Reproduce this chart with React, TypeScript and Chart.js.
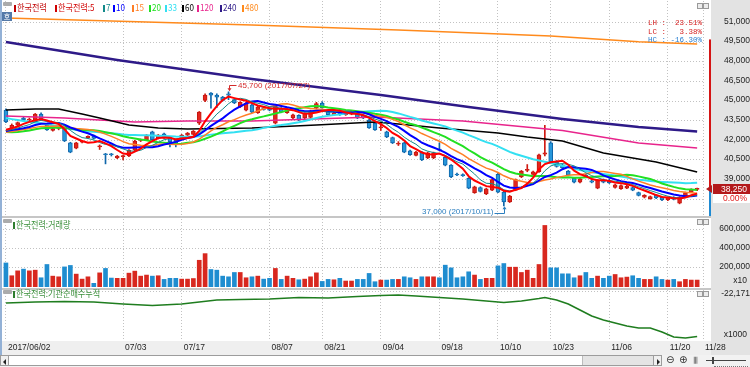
import React, { useEffect, useRef } from "react";
import { Chart, registerables } from "chart.js";

Chart.register(...registerables);

// ---------------- data ----------------
const tickIndex = [0, 20, 30, 45, 54, 64, 74, 84, 93, 103, 113, 119];
const tickLabels = ["2017/06/02", "07/03", "07/17", "08/07", "08/21", "09/04", "09/18", "10/10", "10/23", "11/06", "11/20", "11/28"];

const opens = [
  44300, 42950, 43150, 43700, 43550, 43450, 44000, 43150, 42750, 42900,
  42950, 41800, 41400, 41850, 42200, 42350, 41500, 40950, 40950, 40650,
  40750, 40800, 41250, 42000, 42050, 42650, 42150, 42500, 42250, 42000,
  42150, 42400, 42450, 43300, 45050, 45600, 45450, 45300, 45550, 45100,
  44550, 44300, 44700, 44100, 44500, 44450, 43300, 44450, 44100, 43700,
  43900, 43700, 43750, 44450, 44850, 44200, 43950, 44150, 43950, 44000,
  44100, 43900, 43550, 43300, 42950, 42650, 42200, 41700, 41800, 41200,
  40850, 41100, 40650, 40650, 41300, 40700, 40100, 39400, 39350, 39100,
  38000, 38400, 37900, 38200, 39400, 38050, 37300, 38200, 39200, 39700,
  39400, 39600, 40950, 41800, 40350, 40100, 39650, 39100, 38800, 39350,
  38900, 38350, 39000, 38950, 38400, 38300, 38350, 38400, 38000, 37650,
  37550, 37800, 37650, 37450, 37650, 37200, 37700, 38050, 38250,
];
const highs = [
  44400, 43250, 43400, 43800, 43700, 44050, 44100, 43250, 42950, 43000,
  43000, 41850, 41850, 42000, 42350, 42400, 41650, 41000, 41000, 40850,
  40850, 41300, 42000, 42100, 42450, 42700, 42450, 42550, 42300, 42050,
  42450, 42600, 42750, 44200, 45550, 45650, 45550, 45350, 45700, 45150,
  44950, 44900, 44750, 44600, 44550, 44500, 44750, 44500, 44450, 44000,
  43950, 44100, 44300, 44900, 44950, 44250, 44150, 44200, 44200, 44250,
  44150, 43950, 43600, 43350, 43350, 42700, 42250, 41900, 41850, 41250,
  41150, 41150, 41100, 41100, 41800, 40750, 40150, 39500, 39450, 39150,
  38500, 38450, 38350, 39050, 39500, 38100, 37800, 39050, 39700, 40150,
  39650, 40950, 43150, 41900, 40450, 40200, 39700, 39150, 39100, 39400,
  38950, 39000, 39050, 39050, 38650, 38600, 38600, 38450, 38050, 37850,
  37750, 37850, 37700, 37650, 37700, 37700, 38050, 38300, 38350,
];
const lows = [
  43350, 42900, 43100, 43500, 43500, 43400, 43550, 42750, 42700, 42800,
  41900, 41050, 41350, 41800, 42150, 42100, 41300, 40200, 40800, 40600,
  40500, 40750, 41200, 41900, 42000, 42000, 42100, 42150, 41500, 41500,
  42100, 42350, 42400, 43200, 44950, 44450, 44500, 45000, 45100, 44800,
  44500, 44250, 44100, 44050, 44300, 44250, 43250, 44100, 44050, 43650,
  43500, 43650, 43700, 44400, 44450, 43900, 43900, 43900, 43900, 43950,
  43650, 43650, 42900, 42750, 42750, 42200, 41750, 41600, 41050, 40850,
  40800, 40450, 40600, 40600, 41200, 40050, 39150, 39300, 39250, 38300,
  37950, 38050, 37850, 38150, 38000, 37000, 37250, 38150, 39150, 39600,
  39350, 39550, 40800, 40300, 39950, 39850, 39300, 38750, 38750, 39150,
  38750, 38300, 38750, 38700, 38350, 38250, 38300, 38150, 37750, 37600,
  37500, 37550, 37400, 37400, 37450, 37150, 37650, 38000, 38150,
];
const closes = [
  43400, 43150, 43350, 43550, 43600, 44000, 43600, 42800, 42900, 42950,
  41950, 41100, 41800, 41950, 42300, 42150, 41550, 40900, 40900, 40800,
  40800, 41250, 41950, 42050, 42400, 42050, 42400, 42200, 41900, 41800,
  42400, 42550, 42700, 44150, 45450, 45450, 45300, 45050, 45450, 44850,
  44900, 44850, 44150, 44550, 44350, 44300, 44700, 44150, 44400, 43950,
  43550, 44050, 44250, 44800, 44500, 43950, 44100, 43950, 44100, 44150,
  43700, 43700, 42950, 42800, 43000, 42250, 41800, 41750, 41100, 40900,
  41100, 40500, 41050, 41050, 41250, 40100, 39200, 39350, 39300, 38350,
  38450, 38100, 38300, 39000, 38050, 37300, 37750, 39000, 39650, 39750,
  39600, 40900, 41050, 40350, 40000, 39900, 39350, 38800, 39050, 39200,
  38800, 38950, 38800, 38750, 38600, 38550, 38500, 38200, 37800, 37800,
  37700, 37600, 37450, 37600, 37500, 37650, 38000, 38250, 38250,
];
const volumes = [
  250000, 117000, 168000, 186000, 168000, 175000, 96000, 234000, 113000, 106000,
  209000, 224000, 134000, 82000, 106000, 38000, 147000, 193000, 93000, 90000,
  90000, 144000, 165000, 113000, 124000, 113000, 117000, 79000, 90000, 90000,
  82000, 82000, 88000, 278000, 347000, 182000, 175000, 113000, 106000, 151000,
  151000, 96000, 106000, 113000, 82000, 90000, 193000, 79000, 113000, 90000,
  75000, 82000, 106000, 147000, 58000, 79000, 75000, 90000, 62000, 62000,
  79000, 79000, 141000, 55000, 72000, 72000, 79000, 79000, 106000, 96000,
  79000, 106000, 106000, 106000, 96000, 227000, 199000, 96000, 106000, 158000,
  124000, 79000, 90000, 90000, 220000, 244000, 206000, 206000, 151000, 175000,
  90000, 234000, 640000, 199000, 199000, 137000, 137000, 96000, 117000, 151000,
  90000, 113000, 90000, 113000, 130000, 96000, 103000, 117000, 90000, 79000,
  79000, 106000, 79000, 72000, 79000, 55000, 79000, 72000, 72000,
];
// closes before the first visible day (needed to start the moving averages)
const priorCloses = [
  45900, 45800, 45700, 45600, 45650, 45500, 45400, 45300, 45200, 45100, 45000, 44900, 44550,
  43400, 42900, 42600, 42300, 42100, 42200, 42400, 42350, 42500, 42600, 42450, 42700, 42800,
  42650, 42500, 42600, 42700, 42550, 42800,
];
const maPeriods = [5, 7, 10, 15, 20, 33];

// long moving averages (vertex index, value)
const ma60Idx = [0, 5, 9, 13, 16, 21, 26, 31, 42, 53, 63, 67, 74, 84, 89, 95, 102, 111, 118];
const ma60Val = [44310, 44390, 44390, 44010, 43700, 43170, 42940, 42860, 42940, 43170, 43400, 43250, 42940, 42560, 42250, 41950, 41030, 40350, 39580];
const ma120Idx = [0, 10, 22, 31, 42, 63, 78, 95, 108, 118];
const ma120Val = [43860, 43700, 43400, 43470, 43470, 43780, 43470, 42750, 41800, 41410];
const ma240Idx = [0, 19, 42, 64, 79, 95, 108, 118];
const ma240Val = [49500, 48130, 46680, 45460, 44540, 43630, 43020, 42670];
const ma480Idx = [0, 42, 67, 93, 108, 118];
const ma480Val = [51330, 50800, 50420, 49960, 49530, 49350];

// institutional net buying, cumulative (x1000)
const instIdx = [0, 5, 10, 15, 20, 25, 30, 33, 36, 40, 45, 50, 55, 60, 64, 67, 70, 74, 78, 82, 85, 88, 91, 92, 94, 96, 98, 100, 102, 104, 106, 108, 110, 112, 114, 116, 118];
const instVal = [-27671, -27171, -26921, -27171, -28171, -28921, -28171, -27171, -26171, -25921, -25671, -24921, -25171, -24421, -23921, -23671, -24171, -24921, -25671, -26671, -27421, -26671, -25421, -24921, -26171, -28171, -31171, -34171, -36171, -37671, -39171, -40171, -40171, -42171, -44671, -45171, -44421];

const priceTicks = [37500, 39000, 40500, 42000, 43500, 45000, 46500, 48000, 49500, 51000];
const volumeTicks = [200000, 400000, 600000];
const instTicks = [-22171];
const highDate = "2017/07/27";
const lowDate = "2017/10/11";

// ---------------- styles ----------------
const NUM_FONT = '"Liberation Sans", Arial, sans-serif';
const KR_FONT = '"Noto Sans CJK KR", "Noto Sans", sans-serif';
const MONO_FONT = '"Liberation Mono", "DejaVu Sans Mono", monospace';
const GRID = "#c2c2c2";
const LABEL = "#1e1e1e";
const AXIS_BG = "#e3e3e3";
const AXIS_BG_X = 711;
const X_MIN = -0.5;
const X_MAX = 119;

const MA_STYLE: Record<number, { color: string; width: number }> = {
  5: { color: "#ff0000", width: 2 },
  7: { color: "#138a8a", width: 1 },
  10: { color: "#0000ff", width: 2 },
  15: { color: "#ff7f27", width: 1.5 },
  20: { color: "#22e022", width: 2 },
  33: { color: "#33e0f2", width: 2 },
  60: { color: "#000000", width: 1.5 },
  120: { color: "#e8248c", width: 1.5 },
  240: { color: "#2e1a88", width: 2.5 },
  480: { color: "#ff8a1c", width: 1.5 },
};

const fmt = (v: number) => Math.round(v).toLocaleString("en-US");
const isUp = closes.map((c, i) => c >= opens[i]);

function sma(period: number): number[] {
  const all = priorCloses.concat(closes);
  const off = priorCloses.length;
  return closes.map((_, i) => {
    let s = 0;
    for (let k = off + i - period + 1; k <= off + i; k++) s += all[k];
    return s / period;
  });
}

function xScale(showLabels: boolean): any {
  return {
    type: "linear",
    min: X_MIN,
    max: X_MAX,
    offset: false,
    afterBuildTicks: (s: any) => {
      s.ticks = tickIndex.map((v) => ({ value: v }));
    },
    grid: { color: GRID, lineWidth: 1, drawTicks: false, offset: false },
    border: { display: false, dash: [1, 2] },
    ticks: showLabels
      ? {
          display: true,
          autoSkip: false,
          maxRotation: 0,
          minRotation: 0,
          align: "start",
          labelOffset: 2,
          padding: 2,
          color: LABEL,
          font: { family: NUM_FONT, size: 8.5 },
          callback: (v: number) => {
            const k = tickIndex.indexOf(v);
            return k >= 0 ? tickLabels[k] : "";
          },
        }
      : { display: false },
    afterFit: (s: any) => {
      s.height = showLabels ? 14 : 0;
      s.paddingLeft = 0;
      s.paddingRight = 0;
      s.paddingTop = 0;
      s.paddingBottom = 0;
    },
  };
}

function yScale(min: number, max: number, ticks: number[], padding: number, hideFirst = false, labelOffset = -1): any {
  return {
    position: "right",
    min,
    max,
    afterBuildTicks: (s: any) => {
      s.ticks = ticks.map((v) => ({ value: v }));
    },
    grid: { color: GRID, lineWidth: 1, drawTicks: false },
    border: { display: false, dash: [1, 2] },
    ticks: {
      color: LABEL,
      font: { family: NUM_FONT, size: 8.5 },
      crossAlign: "far",
      padding,
      labelOffset,
      callback: (v: number) => (hideFirst && v === ticks[0] ? "" : fmt(v)),
    },
    afterFit: (s: any) => {
      s.width = 47;
      s.paddingLeft = 0;
      s.paddingRight = 0;
      s.paddingTop = 0;
      s.paddingBottom = 0;
    },
  };
}

const bgPlugin = (strip: boolean) => ({
  id: "bg",
  beforeDraw(chart: any) {
    const { ctx, width, height, chartArea } = chart;
    ctx.save();
    ctx.fillStyle = "#ffffff";
    ctx.fillRect(0, 0, width, height);
    if (strip) {
      ctx.fillStyle = "#efefef";
      ctx.fillRect(0, chartArea.bottom, width, height - chartArea.bottom);
    }
    ctx.fillStyle = AXIS_BG;
    ctx.fillRect(AXIS_BG_X, 0, width - AXIS_BG_X, height);
    ctx.restore();
  },
});

const unitPlugin = (text: string, dy: number) => ({
  id: "unit",
  afterDraw(chart: any) {
    const { ctx, chartArea } = chart;
    ctx.save();
    ctx.font = `8.5px ${NUM_FONT}`;
    ctx.fillStyle = LABEL;
    ctx.textAlign = "right";
    ctx.textBaseline = "middle";
    ctx.fillText(text, 747, chartArea.bottom - dy);
    ctx.restore();
  },
});

const mainDecor = {
  id: "mainDecor",
  afterDraw(chart: any) {
    const { ctx, chartArea, scales } = chart;
    const xs = scales.x;
    const ys = scales.y;
    const n = closes.length;
    const last = closes[n - 1];
    const prev = closes[n - 2];
    const upper = Math.floor((prev * 1.3) / 50) * 50;
    ctx.save();
    // daily limit bar
    const yTop = ys.getPixelForValue(upper);
    const yCur = Math.round(ys.getPixelForValue(last));
    ctx.fillStyle = "#d41414";
    ctx.fillRect(709, yTop, 2, yCur - yTop);
    ctx.fillStyle = "#1f8ad2";
    ctx.fillRect(709, yCur, 2, chartArea.bottom + 1 - yCur);
    // current price tag
    ctx.fillStyle = "#b3191b";
    ctx.fillRect(713, yCur - 5, 37, 10);
    ctx.beginPath();
    ctx.moveTo(706, yCur);
    ctx.lineTo(712, yCur - 4);
    ctx.lineTo(712, yCur + 4);
    ctx.closePath();
    ctx.fill();
    ctx.font = `8.5px ${NUM_FONT}`;
    ctx.textAlign = "right";
    ctx.textBaseline = "middle";
    ctx.fillStyle = "#ffffff";
    ctx.fillText(fmt(last), 747, yCur + 0.5);
    ctx.fillStyle = "#ffffff";
    ctx.fillRect(713, yCur + 5, 37, 9);
    ctx.fillStyle = "#e01818";
    ctx.fillText(((last - prev) / prev * 100).toFixed(2) + "%", 747, yCur + 9.5);

    // high / low
    let hi = 0;
    let lo = 0;
    highs.forEach((h, i) => { if (h > highs[hi]) hi = i; });
    lows.forEach((l, i) => { if (l < lows[lo]) lo = i; });
    const H = highs[hi];
    const L = lows[lo];
    const C = last;

    // LH / LC / HC
    const rows: [string, number, string][] = [
      ["LH", ((H - L) / L) * 100, "#d42020"],
      ["LC", ((C - L) / L) * 100, "#d42020"],
      ["HC", ((C - H) / H) * 100, "#2a7fd0"],
    ];
    ctx.font = `7.5px ${MONO_FONT}`;
    rows.forEach(([k, v, c], r) => {
      ctx.fillStyle = c;
      ctx.fillText(`${k} : ${(v.toFixed(2) + "%").padStart(7, " ")}`, chartArea.right - 1, 23.5 + r * 8.2);
    });

    ctx.font = `8px ${NUM_FONT}`;
    // high annotation
    const hx = Math.round(xs.getPixelForValue(hi)) + 0.5;
    const hy = ys.getPixelForValue(H);
    ctx.strokeStyle = "#d42a2a";
    ctx.fillStyle = "#d42a2a";
    ctx.lineWidth = 1;
    ctx.beginPath();
    ctx.moveTo(hx, hy - 3);
    ctx.lineTo(hx, Math.round(hy - 7) + 0.5);
    ctx.lineTo(hx + 7, Math.round(hy - 7) + 0.5);
    ctx.stroke();
    ctx.beginPath();
    ctx.moveTo(hx, hy - 0.5);
    ctx.lineTo(hx - 2, hy - 3.5);
    ctx.lineTo(hx + 2, hy - 3.5);
    ctx.closePath();
    ctx.fill();
    ctx.textAlign = "left";
    ctx.fillText(`${fmt(H)} (${highDate})`, hx + 8.5, hy - 6.5);

    // low annotation
    const lx = Math.round(xs.getPixelForValue(lo)) + 0.5;
    const ly = ys.getPixelForValue(L);
    ctx.strokeStyle = "#2c7fbf";
    ctx.fillStyle = "#2c7fbf";
    ctx.beginPath();
    ctx.moveTo(lx, ly + 3);
    ctx.lineTo(lx, Math.round(ly + 7) + 0.5);
    ctx.lineTo(lx - 10, Math.round(ly + 7) + 0.5);
    ctx.stroke();
    ctx.beginPath();
    ctx.moveTo(lx, ly + 0.5);
    ctx.lineTo(lx - 2, ly + 3.5);
    ctx.lineTo(lx + 2, ly + 3.5);
    ctx.closePath();
    ctx.fill();
    ctx.textAlign = "right";
    ctx.fillText(`${fmt(L)} (${lowDate})`, lx - 11, ly + 5.5);
    ctx.restore();
  },
};

const baseOptions = (padTop: number) => ({
  responsive: false,
  maintainAspectRatio: false,
  animation: false,
  devicePixelRatio: 1,
  events: [],
  layout: { autoPadding: false, padding: { left: 3, top: padTop, bottom: padTop === 2 ? 0 : 1, right: 0 } },
  plugins: { legend: { display: false }, tooltip: { enabled: false } },
});

function buildMain(): any {
  const maLines = maPeriods.map((p) => {
    const m = sma(p);
    return {
      type: "line",
      data: m.map((v, i) => ({ x: i, y: v })),
      borderColor: MA_STYLE[p].color,
      borderWidth: MA_STYLE[p].width,
      pointRadius: 0,
      fill: false,
      tension: 0,
      order: 0,
    };
  });
  const longLine = (p: number, idx: number[], val: number[]) => ({
    type: "line",
    data: idx.map((x, k) => ({ x, y: val[k] })),
    borderColor: MA_STYLE[p].color,
    borderWidth: MA_STYLE[p].width,
    pointRadius: 0,
    fill: false,
    tension: 0,
    order: 0,
  });
  return {
    type: "bar",
    data: {
      datasets: [
        ...maLines,
        longLine(60, ma60Idx, ma60Val),
        longLine(120, ma120Idx, ma120Val),
        longLine(240, ma240Idx, ma240Val),
        longLine(480, ma480Idx, ma480Val),
        {
          type: "bar",
          data: closes.map((c, i) => ({ x: i, y: [opens[i], c] })),
          backgroundColor: isUp.map((u) => (u ? "#e3261d" : "#2797db")),
          borderColor: isUp.map((u) => (u ? "#c41710" : "#0f66aa")),
          borderWidth: 1,
          borderSkipped: false,
          barThickness: 4,
          minBarLength: 1,
          grouped: false,
          order: 1,
        },
        {
          type: "bar",
          data: highs.map((h, i) => ({ x: i, y: [lows[i], h] })),
          backgroundColor: isUp.map((u) => (u ? "#d01a12" : "#0f66aa")),
          barThickness: 1,
          grouped: false,
          order: 2,
        },
      ],
    },
    options: {
      ...baseOptions(1),
      scales: {
        x: xScale(false),
        y: yScale(36298, 52634, priceTicks, 17, true),
      },
    },
    plugins: [bgPlugin(false), mainDecor],
  };
}

function buildVolume(): any {
  return {
    type: "bar",
    data: {
      datasets: [
        {
          data: volumes.map((v, i) => ({ x: i, y: v })),
          backgroundColor: isUp.map((u) => (u ? "#d8281f" : "#1f8dd0")),
          barThickness: 4,
          grouped: false,
        },
      ],
    },
    options: {
      ...baseOptions(1),
      scales: {
        x: xScale(false),
        y: yScale(0, 707000, volumeTicks, 12),
      },
    },
    plugins: [bgPlugin(false), unitPlugin("x10", 6)],
  };
}

function buildInst(): any {
  return {
    type: "line",
    data: {
      datasets: [
        {
          data: instIdx.map((x, k) => ({ x, y: instVal[k] })),
          borderColor: "#1f7d1f",
          borderWidth: 1.6,
          pointRadius: 0,
          fill: false,
          tension: 0,
        },
      ],
    },
    options: {
      ...baseOptions(2),
      scales: {
        x: xScale(true),
        y: yScale(-46671, -21171, instTicks, 14, false, 1.5),
      },
    },
    plugins: [bgPlugin(true), unitPlugin("x1000", 6.5)],
  };
}

function ChartCanvas({ top, height, build }: { top: number; height: number; build: () => any }) {
  const ref = useRef<HTMLCanvasElement>(null);
  useEffect(() => {
    const chart = new Chart(ref.current as HTMLCanvasElement, build());
    return () => chart.destroy();
  }, []);
  return (
    <canvas
      ref={ref}
      width={750}
      height={height}
      style={{ position: "absolute", left: 0, top, width: 750, height, display: "block" }}
    />
  );
}

const legendItems = [
  { text: "한국전력", color: "#c00000" },
  { text: "한국전력:5", color: "#d00000" },
  ...[7, 10, 15, 20, 33, 60, 120, 240, 480].map((p) => ({ text: String(p), color: MA_STYLE[p].color })),
];
const legendLeft = [14, 55, 103, 113, 132, 149, 165, 182, 197, 220, 242];

function Item({ left, top, text, color, textColor }: { left: number; top: number; text: string; color: string; textColor?: string }) {
  return (
    <div style={{ position: "absolute", left, top, display: "flex", alignItems: "center", height: 10, whiteSpace: "nowrap" }}>
      <span style={{ display: "inline-block", width: 2, height: 7, background: color, marginRight: 1 }} />
      <span
        style={{
          display: "inline-block",
          fontFamily: KR_FONT,
          fontSize: 9,
          lineHeight: "10px",
          color: textColor || color,
          transform: "scaleX(0.9)",
          transformOrigin: "left center",
        }}
      >
        {text}
      </span>
    </div>
  );
}

function PanelIcons({ top }: { top: number }) {
  const box = (left: number): React.CSSProperties => ({
    position: "absolute", left, top, width: 4, height: 4, border: "1px solid #9a9a9a", background: "#ececec",
  });
  return (
    <>
      <div style={box(697)} />
      <div style={box(703)} />
    </>
  );
}

function ScrollBar() {
  const tri = (dir: "l" | "r"): React.CSSProperties => ({
    position: "absolute", top: 3, left: dir === "l" ? 2 : 3, width: 0, height: 0,
    borderTop: "3px solid transparent", borderBottom: "3px solid transparent",
    ...(dir === "l" ? { borderRight: "3px solid #222" } : { borderLeft: "3px solid #222" }),
  });
  return (
    <div style={{ position: "absolute", left: 0, top: 355, width: 750, height: 12, background: "#f2f2f2" }}>
      <div style={{ position: "absolute", left: 0, top: 0, width: 9, height: 11, border: "1px solid #9c9c9c", boxSizing: "border-box", background: "#f0f0f0" }}>
        <div style={tri("l")} />
      </div>
      <div style={{ position: "absolute", left: 9, top: 0, width: 644, height: 11, borderTop: "1px solid #9c9c9c", borderBottom: "1px solid #9c9c9c", boxSizing: "border-box", background: "#ffffff" }} />
      <div style={{ position: "absolute", left: 582, top: 1, width: 70, height: 9, background: "#e4e4e4", borderLeft: "1px solid #bcbcbc" }} />
      <div style={{ position: "absolute", left: 653, top: 0, width: 9, height: 11, border: "1px solid #9c9c9c", boxSizing: "border-box", background: "#f0f0f0" }}>
        <div style={tri("r")} />
      </div>
      <div style={{ position: "absolute", left: 666, top: -2, fontFamily: '"DejaVu Sans", sans-serif', fontSize: 10, color: "#333", lineHeight: "14px" }}>⊖</div>
      <div style={{ position: "absolute", left: 679, top: -2, fontFamily: '"DejaVu Sans", sans-serif', fontSize: 10, color: "#333", lineHeight: "14px" }}>⊕</div>
      <div style={{ position: "absolute", left: 693, top: 1, fontFamily: '"DejaVu Sans", sans-serif', fontSize: 7, color: "#333", lineHeight: "9px", letterSpacing: -1 }}>|||</div>
      <div style={{ position: "absolute", left: 706, top: 5, width: 40, height: 1, background: "#444" }} />
      <div style={{ position: "absolute", left: 712, top: 2, width: 2, height: 7, background: "#444" }} />
      <div style={{ position: "absolute", left: 714, top: 9, width: 34, height: 2, borderBottom: "1px dotted #777" }} />
    </div>
  );
}

export default function App() {
  return (
    <div style={{ position: "fixed", left: 0, top: 0, width: 750, height: 367, background: "#ffffff", overflow: "hidden" }}>
      <ChartCanvas top={0} height={216} build={buildMain} />
      <ChartCanvas top={218} height={70} build={buildVolume} />
      <ChartCanvas top={288} height={67} build={buildInst} />

      {/* separators */}
      <div style={{ position: "absolute", left: 0, top: 216, width: AXIS_BG_X, height: 2, background: "#c6c6c6" }} />
      <div style={{ position: "absolute", left: AXIS_BG_X, top: 216, width: 39, height: 2, background: AXIS_BG }} />
      <div style={{ position: "absolute", left: 0, top: 288, width: AXIS_BG_X, height: 2, background: "#c6c6c6" }} />
      {/* left frame */}
      <div style={{ position: "absolute", left: 0, top: 0, width: 2, height: 355, background: "#93b1d6" }} />

      {/* main legend */}
      <div style={{ position: "absolute", left: 3, top: 2, width: 9, height: 4, background: "#ababab", borderRadius: 1 }} />
      {legendItems.map((it, k) => (
        <Item key={k} left={legendLeft[k]} top={3} text={it.text} color={it.color} />
      ))}
      <div style={{ position: "absolute", left: 2, top: 12, width: 10, height: 9, background: "#5479a8", color: "#fff", fontFamily: KR_FONT, fontSize: 7, lineHeight: "9px", textAlign: "center" }}>호</div>

      {/* volume title */}
      <div style={{ position: "absolute", left: 3, top: 219, width: 9, height: 4, background: "#ababab", borderRadius: 1 }} />
      <Item left={13} top={220} text="한국전력:거래량" color="#2e7d2e" textColor="#3a8f3a" />
      {/* institutional title */}
      <div style={{ position: "absolute", left: 3, top: 290, width: 9, height: 4, background: "#ababab", borderRadius: 1 }} />
      <Item left={13} top={289} text="한국전력:기관순매수누적" color="#2e7d2e" textColor="#3a8f3a" />

      <PanelIcons top={3} />
      <PanelIcons top={219} />
      <PanelIcons top={291} />

      <ScrollBar />
    </div>
  );
}
